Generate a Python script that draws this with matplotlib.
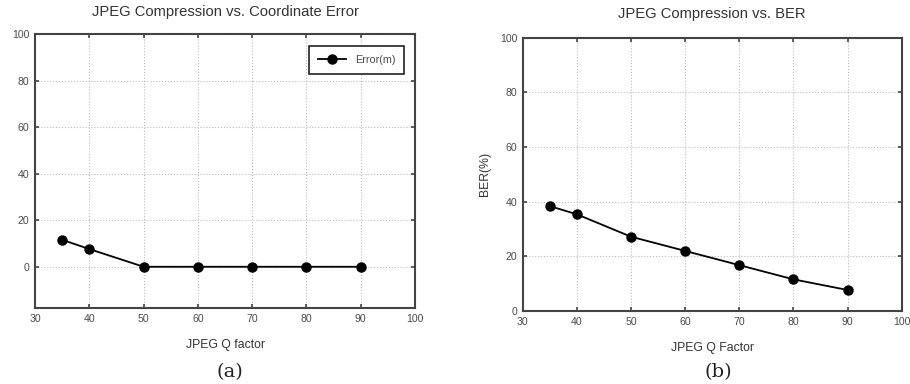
import matplotlib
matplotlib.use('Agg')
import matplotlib.pyplot as plt
import numpy as np

plt.rcParams['font.family'] = ['Liberation Sans', 'DejaVu Sans']

# data
q_factor = [35, 40, 50, 60, 70, 80, 90]
error_m = [11.6, 7.6, 0, 0, 0, 0, 0]
ber = [38.4, 35.4, 27.2, 22.0, 16.8, 11.6, 7.7]

xticks = [30, 40, 50, 60, 70, 80, 90, 100]
yticks_a = [0, 20, 40, 60, 80, 100]
yticks_b = [0, 20, 40, 60, 80, 100]

grey = '#4a4a4a'
spine_col = '#444444'

fig = plt.figure(figsize=(9.1, 3.84), dpi=100)
ax = fig.add_axes([0.0385, 0.198, 0.4176, 0.7135])
ax2 = fig.add_axes([0.5744, 0.190, 0.4165, 0.7117])


def style(a):
    for s in a.spines.values():
        s.set_color(spine_col)
        s.set_linewidth(1.5)
    a.tick_params(direction='in', top=True, right=True, length=3, width=1.2,
                  color=spine_col, labelsize=7.6, labelcolor=grey, pad=4)
    a.grid(True, linestyle=':', color='#bbbbbb', linewidth=0.8)
    a.set_xticks(xticks)
    a.set_xlim(30, 100)


ax.plot(q_factor, error_m, '-o', color='black', lw=1.3, ms=6.5, label='Error(m)')
style(ax)
ax.set_ylim(-17.7, 100)
ax.set_yticks(yticks_a)
ax.set_title('JPEG Compression vs. Coordinate Error', fontsize=10.6, color='#333333', pad=13)
ax.set_xlabel('JPEG Q factor', fontsize=8.8, color='#333333', labelpad=11)
leg = ax.legend(loc='upper right', fontsize=7.8, fancybox=False, framealpha=1,
                edgecolor='#222222', borderpad=0.8, handlelength=2.6,
                bbox_to_anchor=(0.985, 0.975))
leg.get_frame().set_linewidth(1.2)
for t in leg.get_texts():
    t.set_color(grey)
fig.text(3 / 910, 0.555, 'Meter', rotation=90, ha='right', va='center',
         fontsize=8.8, color='#333333')

ax2.plot(q_factor, ber, '-o', color='black', lw=1.3, ms=6.5)
style(ax2)
ax2.set_ylim(0, 100)
ax2.set_yticks(yticks_b)
ax2.set_title('JPEG Compression vs. BER', fontsize=10.6, color='#333333', pad=14)
ax2.set_xlabel('JPEG Q Factor', fontsize=8.8, color='#333333', labelpad=11)
ax2.set_ylabel('BER(%)', fontsize=8.8, color='#333333', labelpad=6)

fig.text(230 / 910, 1 - 372 / 384, '(a)', ha='center', va='center',
         fontsize=14, family='DejaVu Serif', color='#222222')
fig.text(718 / 910, 1 - 372 / 384, '(b)', ha='center', va='center',
         fontsize=14, family='DejaVu Serif', color='#222222')

fig.savefig('out.png', dpi=100)
